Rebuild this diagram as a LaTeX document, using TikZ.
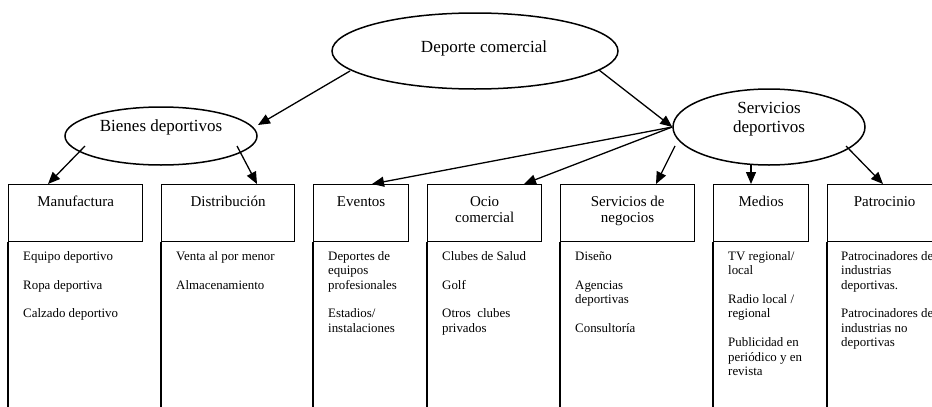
\documentclass[tikz,border=0pt]{standalone}
\usepackage{fontspec}
\setmainfont{Liberation Serif}
\usetikzlibrary{shapes.geometric,arrows.meta,calc}
\newcommand{\itstrut}{\rule{0pt}{11pt}}
\newcommand{\hdstrut}{\rule{0pt}{13pt}}
\newcommand{\bgstrut}{\rule{0pt}{15pt}}
\begin{document}
\begin{tikzpicture}[x=1pt,y=-1pt,
  oval/.style={ellipse,draw,line width=1.5pt,inner sep=0pt},
  bigtxt/.style={font=\fontsize{17}{19}\selectfont,align=center,anchor=north,inner sep=0pt},
  hbox/.style={draw,line width=1.3pt,anchor=north west,minimum height=57pt,inner sep=0pt},
  htxt/.style={font=\fontsize{15}{16.5}\selectfont,align=center,anchor=north,inner sep=0pt},
  items/.style={font=\fontsize{12.9}{14.4}\selectfont,align=left,anchor=north west,inner sep=0pt},
  conn/.style={line width=1.3pt,-{Triangle[length=12pt,width=10pt]}},
  vline/.style={line width=1.3pt}]
\useasboundingbox (0,0) rectangle (932,407);

% ellipses
\node[oval,minimum width=286pt,minimum height=76pt] (dc) at (475,51) {};
\node[bigtxt] (dct) at (484,37) {\bgstrut Deporte comercial};
\node[oval,minimum width=192pt,minimum height=58pt] (bd) at (161,136) {};
\node[bigtxt] (bdt) at (161,116) {\bgstrut Bienes deportivos};
\node[oval,minimum width=192pt,minimum height=76pt] (sd) at (769,127) {};
\node[bigtxt] (sdt) at (769,98) {\bgstrut Servicios\\deportivos};

% header boxes
\node[hbox,minimum width=134pt] (manu) at (8,184) {};
\node[hbox,minimum width=133pt] (dist) at (161,184) {};
\node[hbox,minimum width=95pt]  (ev)   at (313,184) {};
\node[hbox,minimum width=114pt] (ocio) at (427,184) {};
\node[hbox,minimum width=134pt] (sn)   at (560,184) {};
\node[hbox,minimum width=95pt]  (med)  at (713,184) {};
\node[hbox,minimum width=114pt] (pat)  at (827,184) {};

% header texts
\node[htxt] (manut) at (manu.north |- 0,193) {\hdstrut Manufactura};
\node[htxt] (distt) at (dist.north |- 0,193) {\hdstrut Distribución};
\node[htxt] (evt)   at (ev.north |- 0,193) {\hdstrut Eventos};
\node[htxt] (ociot) at (ocio.north |- 0,193) {\hdstrut Ocio\\comercial};
\node[htxt] (snt)   at (sn.north |- 0,193) {\hdstrut Servicios de\\negocios};
\node[htxt] (medt)  at (med.north |- 0,193) {\hdstrut Medios};
\node[htxt] (patt)  at (pat.north |- 0,193) {\hdstrut Patrocinio};

% column lines
\foreach \b in {manu,dist,ev,ocio,sn,med,pat}
  \draw[vline] (\b.south west) -- ++(0,170);

% item lists
\node[items] (manui) at (23,249) {\itstrut Equipo deportivo\\[14.4pt]Ropa deportiva\\[14.4pt]Calzado deportivo};
\node[items] (disti) at (176,249) {\itstrut Venta al por menor\\[14.4pt]Almacenamiento};
\node[items] (evi) at (328,249) {\itstrut Deportes de\\equipos\\profesionales\\[14.4pt]Estadios/\\instalaciones};
\node[items] (ocioi) at (442,249) {\itstrut Clubes de Salud\\[14.4pt]Golf\\[14.4pt]Otros\ \ clubes\\privados};
\node[items] (sni) at (575,249) {\itstrut Diseño\\[14.4pt]Agencias\\deportivas\\[14.4pt]Consultoría};
\node[items] (medi) at (728,249) {\itstrut TV regional/\\local\\[14.4pt]Radio local /\\regional\\[14.4pt]Publicidad en\\periódico y en\\revista};
\node[items] (pati) at (841,249) {\itstrut Patrocinadores de\\industrias\\deportivas.\\[14.4pt]Patrocinadores de\\industrias no\\deportivas};

% connectors
\draw[conn] ($(dc.center)+(-125,20)$) -- ($(bd.center)+(97,-11)$);
\draw[conn] ($(dc.center)+(124,19)$) -- (sd.west);
\draw[conn] ($(bd.center)+(-76,10)$) -- ($(manu.north west)+(40,0)$);
\draw[conn] ($(bd.center)+(76,10)$) -- ($(dist.north west)+(96,0)$);
\draw[conn] (sd.west) -- ($(ev.north west)+(59,0)$);
\draw[conn] (sd.west) -- ($(ocio.north west)+(97,0)$);
\draw[conn] ($(sd.center)+(-94,19)$) -- ($(sn.north west)+(96,0)$);
\draw[conn] ($(sd.center)+(-18,38)$) -- ($(med.north west)+(38,0)$);
\draw[conn] ($(sd.center)+(77,19)$) -- ($(pat.north west)+(56,0)$);
\end{tikzpicture}
\end{document}
